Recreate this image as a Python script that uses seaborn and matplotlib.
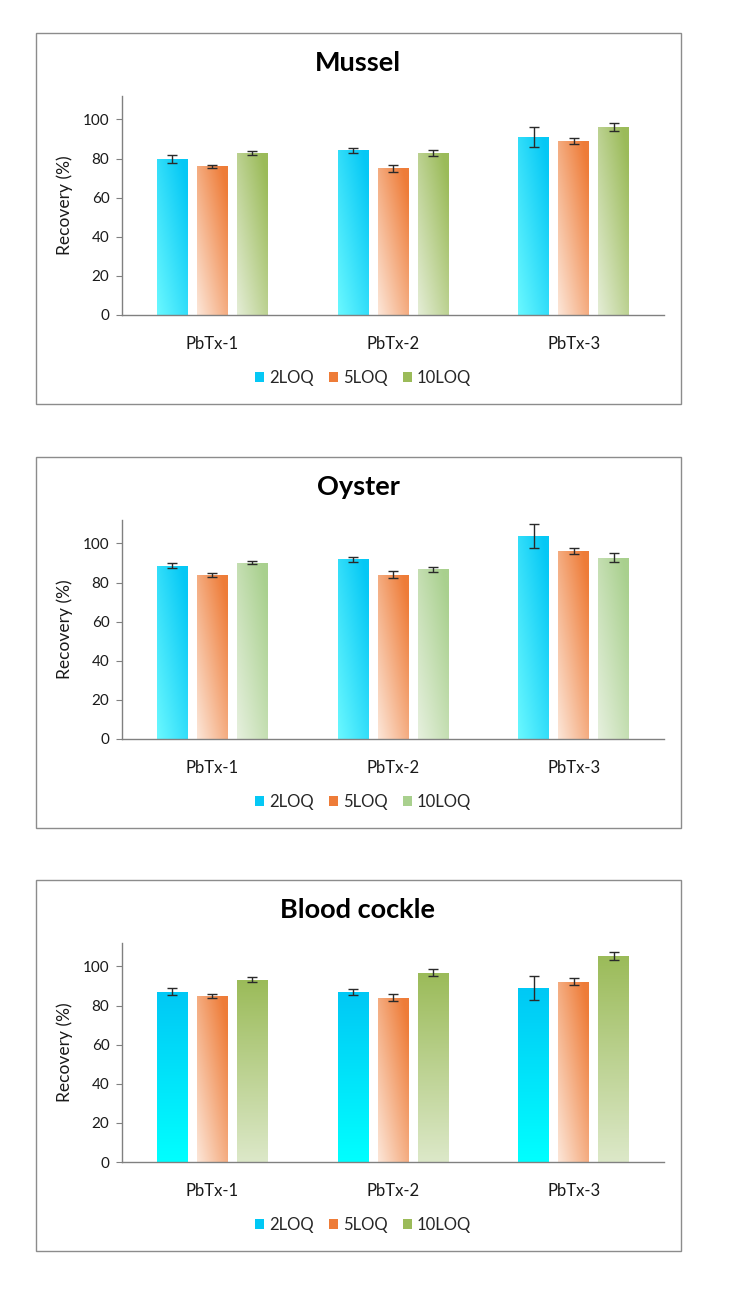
import numpy as np
import pandas as pd
import matplotlib
matplotlib.use("Agg")
import matplotlib.pyplot as plt
from matplotlib.patches import Rectangle, Patch
from matplotlib.colors import to_rgb
import seaborn as sns

sns.set_theme(style="white")
plt.rcParams['font.family'] = ['Lato', 'DejaVu Sans']

# ---------------- data ----------------
toxins = ["PbTx-1", "PbTx-2", "PbTx-3"]
levels = ["2LOQ", "5LOQ", "10LOQ"]
panels = ["Mussel", "Oyster", "Blood cockle"]

mussel_2loq = [79.7, 84.3, 91.0]
mussel_5loq = [76.0, 75.1, 88.9]
mussel_10loq = [82.8, 82.8, 96.1]
mussel_2loq_err = [1.9, 1.3, 5.0]
mussel_5loq_err = [0.8, 1.8, 1.7]
mussel_10loq_err = [1.1, 1.7, 2.2]

oyster_2loq = [88.7, 91.9, 103.9]
oyster_5loq = [84.0, 84.1, 96.3]
oyster_10loq = [90.2, 86.7, 92.8]
oyster_2loq_err = [1.2, 1.3, 6.0]
oyster_5loq_err = [1.1, 2.0, 1.6]
oyster_10loq_err = [0.9, 1.5, 2.2]

cockle_2loq = [87.1, 87.1, 89.1]
cockle_5loq = [85.0, 84.0, 92.2]
cockle_10loq = [93.2, 96.8, 105.5]
cockle_2loq_err = [1.7, 1.5, 6.0]
cockle_5loq_err = [1.0, 1.7, 1.9]
cockle_10loq_err = [1.2, 1.7, 2.1]

yticks = [0, 20, 40, 60, 80, 100]

panel_values = {
    "Mussel": ([mussel_2loq, mussel_5loq, mussel_10loq],
               [mussel_2loq_err, mussel_5loq_err, mussel_10loq_err]),
    "Oyster": ([oyster_2loq, oyster_5loq, oyster_10loq],
               [oyster_2loq_err, oyster_5loq_err, oyster_10loq_err]),
    "Blood cockle": ([cockle_2loq, cockle_5loq, cockle_10loq],
                     [cockle_2loq_err, cockle_5loq_err, cockle_10loq_err]),
}

# gradient colours: (dark, light, mode)
grad_colors = {
    "Mussel": [("#05C8F5", "#6AF8FF", "diag"), ("#EE7C38", "#FCE6D8", "diag"), ("#9BBB59", "#E4EDD6", "diag")],
    "Oyster": [("#05C8F5", "#6AF8FF", "diag"), ("#EE7C38", "#FCE6D8", "diag"), ("#A9D08E", "#E6F0DE", "diag")],
    "Blood cockle": [("#00C8F5", "#00FFFF", "vert"), ("#EE7C38", "#FCE6D8", "diag"), ("#9BBB59", "#DCE8C8", "vert")],
}

W, H = 730, 1291
fig = plt.figure(figsize=(W / 100, H / 100), dpi=100)

def fx(px):
    return px / W

def fy(py):
    return 1 - py / H

def gradient_image(dark, light, mode, n=64):
    u = np.linspace(0, 1, n)[None, :]
    v = np.linspace(1, 0, n)[:, None]  # row 0 = top
    if mode == "vert":
        t = np.repeat(v, n, axis=1)
    else:
        t = np.clip(0.55 * u + 0.55 * v, 0, 1)
    d = np.array(to_rgb(dark))
    l = np.array(to_rgb(light))
    img = l[None, None, :] * (1 - t[..., None]) + d[None, None, :] * t[..., None]
    return img

offsets = [0, 424, 847]
for pi, name in enumerate(panels):
    off = offsets[pi]
    # frame box
    fig.add_artist(Rectangle((fx(36), fy(404 + off)), fx(681) - fx(36), fy(33 + off) - fy(404 + off),
                             transform=fig.transFigure, fill=False, edgecolor="#8c8c8c", lw=1.0))
    ax = fig.add_axes([fx(122), fy(315 + off), fx(664) - fx(122), fy(96 + off) - fy(315 + off)])

    vals, errs = panel_values[name]
    rows = []
    for li, lev in enumerate(levels):
        for ti, tox in enumerate(toxins):
            rows.append({"toxin": tox, "level": lev, "value": vals[li][ti], "err": errs[li][ti]})
    df = pd.DataFrame(rows)

    pal = [c[0] for c in grad_colors[name]]
    sns.barplot(data=df, x="toxin", y="value", hue="level", order=toxins, hue_order=levels,
                palette=pal, errorbar=None, width=0.663, gap=0.23, ax=ax, legend=False,
                linewidth=0)

    bar_containers = list(ax.containers)
    for li, cont in enumerate(bar_containers):
        dark, light, mode = grad_colors[name][li]
        img = gradient_image(dark, light, mode)
        for ti, bar in enumerate(cont.patches):
            x0, y0 = bar.get_x(), bar.get_y()
            w, h = bar.get_width(), bar.get_height()
            im = ax.imshow(img, extent=[x0, x0 + w, y0, y0 + h], aspect="auto",
                           zorder=bar.get_zorder() + 0.1, interpolation="bilinear")
            im.set_clip_path(bar)
            ax.errorbar(x0 + w / 2, vals[li][ti], yerr=errs[li][ti], fmt="none",
                        ecolor="#2a2a2a", elinewidth=1.0, capsize=3.5, capthick=1.0, zorder=5)

    ax.set_xlim(-0.5, 2.5)
    ax.set_ylim(0, 112)
    ax.set_yticks(yticks)
    ax.set_yticklabels([str(t) for t in yticks], fontsize=11, color="#1a1a1a")
    ax.set_xticks(range(3))
    ax.set_xticklabels(toxins, fontsize=12, color="#1a1a1a")
    ax.tick_params(axis="x", length=0, pad=15)
    ax.tick_params(axis="y", length=4, width=0.8, color="#808080", direction="out", pad=5, left=True)
    ax.set_xlabel("")
    ax.set_ylabel("Recovery (%)", fontsize=12.5, color="#1a1a1a", labelpad=7)
    for s in ["top", "right"]:
        ax.spines[s].set_visible(False)
    for s in ["left", "bottom"]:
        ax.spines[s].set_color("#808080")
        ax.spines[s].set_linewidth(1.0)
    ax.set_facecolor("none")

    fig.text(fx(358), fy(63 + off), name, ha="center", va="center", fontsize=19.5,
             fontweight="bold", color="#000000")

    handles = [Patch(facecolor=grad_colors[name][i][0], edgecolor="none", label=levels[i]) for i in range(3)]
    fig.legend(handles=handles, loc="center", bbox_to_anchor=(fx(363), fy(378 + off)), ncol=3,
               frameon=False, fontsize=12, handlelength=0.55, handleheight=0.55,
               handletextpad=0.3, columnspacing=0.9)

fig.savefig("out.png", dpi=100)
